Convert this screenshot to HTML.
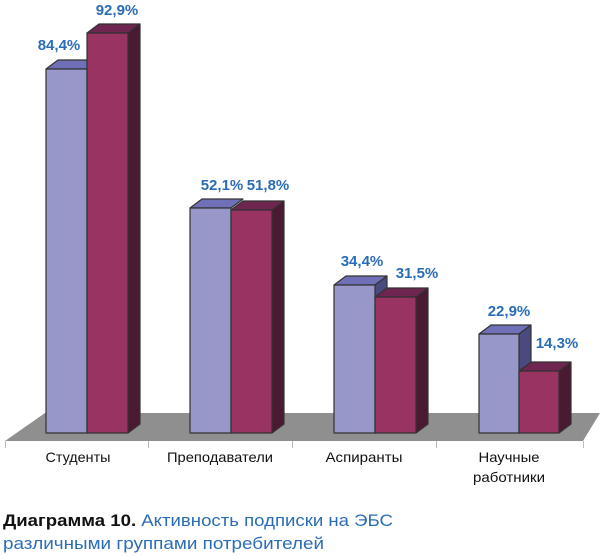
<!DOCTYPE html>
<html><head><meta charset="utf-8"><style>
body{margin:0;background:#fff;width:600px;height:556px;overflow:hidden}
svg{display:block}
.v{font-family:"Liberation Sans","DejaVu Sans",sans-serif;font-weight:bold;font-size:15px;fill:#2a6db5;text-anchor:middle}
.c{font-family:"Liberation Sans","DejaVu Sans",sans-serif;font-size:14px;fill:#111;text-anchor:middle}
</style></head><body>
<svg width="600" height="556" viewBox="0 0 600 556">
<polygon points="45,413 600,413 583,441 5,441" fill="#8f8f8f"/>
<g stroke="#bbb" stroke-width="1">
<line x1="5.5" y1="441" x2="5.5" y2="448"/><line x1="148.5" y1="441" x2="148.5" y2="448"/>
<line x1="292.5" y1="441" x2="292.5" y2="448"/><line x1="436.5" y1="441" x2="436.5" y2="448"/>
<line x1="583.5" y1="441" x2="583.5" y2="448"/>
</g>
<g stroke="#333" stroke-width="1.2" stroke-linejoin="round">
<polygon points="46,69 58,60 99,60 87,69" fill="#6f70b8"/>
<rect x="46" y="69" width="41" height="364" fill="#9797c9"/>
<polygon points="87,33 99,24 140,24 128,33" fill="#6e2550"/>
<polygon points="128,33 140,24 140,424 128,433" fill="#4a1a33"/>
<rect x="87" y="33" width="41" height="400" fill="#993361"/>
<polygon points="190,208 202,199 243,199 231,208" fill="#6f70b8"/>
<rect x="190" y="208" width="41" height="225" fill="#9797c9"/>
<polygon points="231,210 243,201 284,201 272,210" fill="#6e2550"/>
<polygon points="272,210 284,201 284,424 272,433" fill="#4a1a33"/>
<rect x="231" y="210" width="41" height="223" fill="#993361"/>
<polygon points="334,285 346,276 387,276 375,285" fill="#6f70b8"/>
<polygon points="375,285 387,276 387,424 375,433" fill="#4a4a80"/>
<rect x="334" y="285" width="41" height="148" fill="#9797c9"/>
<polygon points="375,297 387,288 428,288 416,297" fill="#6e2550"/>
<polygon points="416,297 428,288 428,424 416,433" fill="#4a1a33"/>
<rect x="375" y="297" width="41" height="136" fill="#993361"/>
<polygon points="479,334 491,325 531,325 519,334" fill="#6f70b8"/>
<polygon points="519,334 531,325 531,424 519,433" fill="#4a4a80"/>
<rect x="479" y="334" width="40" height="99" fill="#9797c9"/>
<polygon points="519,371 531,362 571,362 559,371" fill="#6e2550"/>
<polygon points="559,371 571,362 571,424 559,433" fill="#4a1a33"/>
<rect x="519" y="371" width="40" height="62" fill="#993361"/>
</g>
<text class="v" x="59" y="50">84,4%</text>
<text class="v" x="117" y="15">92,9%</text>
<text class="v" x="222" y="190">52,1%</text>
<text class="v" x="268" y="190">51,8%</text>
<text class="v" x="362" y="266">34,4%</text>
<text class="v" x="417" y="278">31,5%</text>
<text class="v" x="509" y="316">22,9%</text>
<text class="v" x="557" y="348">14,3%</text>
<text class="c" x="78" y="462" textLength="65" lengthAdjust="spacingAndGlyphs">Студенты</text>
<text class="c" x="220" y="462" textLength="106" lengthAdjust="spacingAndGlyphs">Преподаватели</text>
<text class="c" x="364" y="462" textLength="77" lengthAdjust="spacingAndGlyphs">Аспиранты</text>
<text class="c" x="509" y="462" textLength="61" lengthAdjust="spacingAndGlyphs">Научные</text>
<text class="c" x="509" y="482" textLength="72" lengthAdjust="spacingAndGlyphs">работники</text>
<text x="3" y="526" font-family="Liberation Sans,DejaVu Sans,sans-serif" font-size="17" fill="#2a6db5" textLength="390" lengthAdjust="spacingAndGlyphs"><tspan font-weight="bold" fill="#111">Диаграмма 10.</tspan> Активность подписки на ЭБС</text>
<text x="3" y="549" font-family="Liberation Sans,DejaVu Sans,sans-serif" font-size="17" fill="#2a6db5" textLength="321" lengthAdjust="spacingAndGlyphs">различными группами потребителей</text>
</svg>
</body></html>
